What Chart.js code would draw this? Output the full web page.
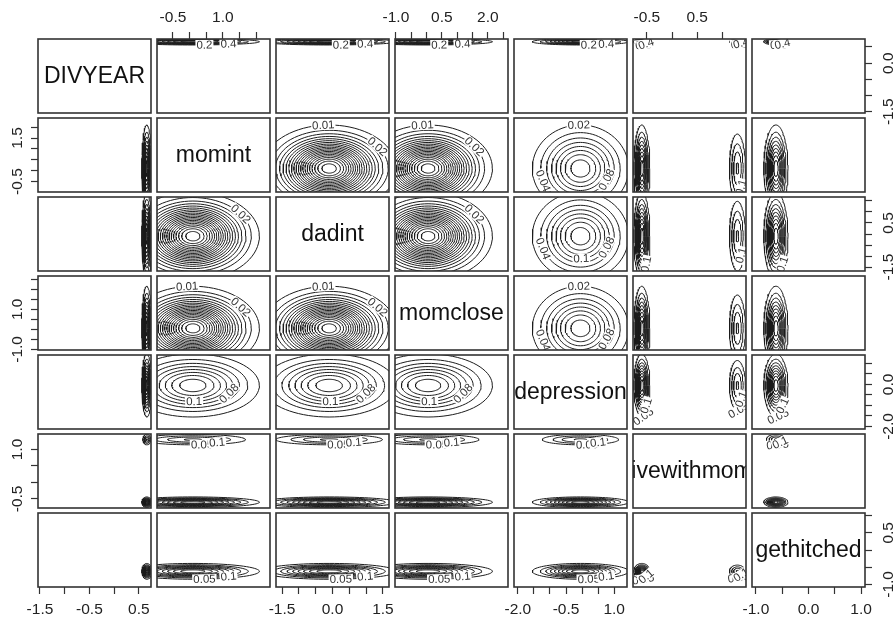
<!DOCTYPE html>
<html><head><meta charset="utf-8">
<style>
html,body{margin:0;padding:0;background:#fff;}
#wrap{position:relative;width:895px;height:618px;overflow:hidden;background:#fff;}
#wrap canvas{position:absolute;}
</style>
<script src="https://cdn.jsdelivr.net/npm/chart.js@4.4.1/dist/chart.umd.min.js"></script>
</head><body><div id="wrap"></div>
<script>
// ---------- data ----------
const variableNames = ['DIVYEAR','momint','dadint','momclose','depression','livewithmom','gethitched'];
const axisMin = [-1.54, -0.98, -1.68, -1.03, -2.12, -0.776, -1.075];
const axisMax = [0.745, 2.42, 1.68, 2.66, 1.40, 1.47, 1.075];
const tickValues = [
  [-1.5,-1.0,-0.5,0.0,0.5],
  [-0.5,0.0,0.5,1.0,1.5,2.0],
  [-1.5,-1.0,-0.5,0.0,0.5,1.0,1.5],
  [-1.0,-0.5,0.0,0.5,1.0,1.5,2.0,2.5],
  [-2.0,-1.5,-1.0,-0.5,0.0,0.5,1.0],
  [-0.5,0.0,0.5,1.0],
  [-1.0,-0.5,0.0,0.5,1.0]
];
const topTickLabels    = [null, [-0.5,1.0], null, [-1.0,0.5,2.0], null, [-0.5,0.5], null];
const bottomTickLabels = [[-1.5,-0.5,0.5], null, [-1.5,0.0,1.5], null, [-2.0,-0.5,1.0], null, [-1.0,0.0,1.0]];
const leftTickLabels   = [null, [-0.5,1.5], null, [-1.0,1.0], null, [-0.5,1.0], null];
const rightTickLabels  = [[-1.5,0.0], null, [-1.5,0.5], null, [-2.0,0.0], null, [-1.0,0.5]];

// density modes of each variable: centre, weight, outer contour half-width (data units)
const modeCenters = [[0.66],[0.1],[-0.1],[0.05],[-0.05],[-0.6,1.3],[-0.62]];
const modeWeights = [[1],[1],[1],[1],[1],[0.7,0.3],[1]];
const modeRadii   = [[0.1],[2.0],[2.0],[2.1],[1.5],[0.16,0.2],[0.23]];
// contour levels used when a variable dominates a panel
const levelStep  = [0.2, 0.01, 0.01, 0.01, 0.02, 0.05, 0.05];
const levelCount = [9, 20, 20, 20, 8, 9, 9];
const levelRank  = [4, 0, 0, 0, 1, 3, 2];
// which rings get a level label and at which angle (degrees)
const labelDense  = [[1,95],[2,35],[4,262]];
const labelSparse = [[1,92],[2,200],[5,272],[4,335]];
const labelThin   = [[1,-80],[2,-50]];

// ---------- layout ----------
const FONT = '"Liberation Sans", Arial, Helvetica, sans-serif';
Chart.defaults.font.family = FONT;
Chart.defaults.color = '#222';
const W0 = 895, H0 = 618;
const PX0 = 38, PY0 = 39, PITCH_X = 119, PITCH_Y = 79, PW = 113, PH = 74, MARG = 16;

function fmtLevel(c){ return String(parseFloat(c.toFixed(4))); }

function buildRings(i, j){
  const k = levelRank[i] >= levelRank[j] ? i : j;
  const step = levelStep[k], n = levelCount[k];
  const peak = step * (n + 0.7);
  let maxW = 0;
  modeWeights[j].forEach(wa => modeWeights[i].forEach(wb => { maxW = Math.max(maxW, wa*wb); }));
  const rings = [];
  modeCenters[j].forEach((cx, a) => {
    modeCenters[i].forEach((cy, b) => {
      const w = modeWeights[j][a]*modeWeights[i][b]/maxW;
      const pc = peak * w;
      for (let q = 1; q <= n; q++){
        const c = step*q;
        if (c >= pc) break;
        const f = Math.sqrt(Math.log(pc/c)/Math.log(peak/step));
        rings.push({cx, cy, rx: modeRadii[j][a]*f, ry: modeRadii[i][b]*f, level: c, q});
      }
    });
  });
  const spec = step === 0.01 ? labelDense : (step === 0.02 ? labelSparse : labelThin);
  const labels = [];
  rings.forEach(r => { spec.forEach(([q, ang]) => { if (r.q === q) labels.push({r, ang}); }); });
  return {rings, labels};
}

function ellipse(r){
  const pts = [], N = 80;
  for (let t = 0; t <= N; t++){
    const a = 2*Math.PI*t/N;
    pts.push({x: r.cx + r.rx*Math.cos(a), y: r.cy + r.ry*Math.sin(a)});
  }
  return pts;
}

const decoPlugin = {
  id: 'deco',
  afterDatasetsDraw(chart, args, info){
    const {ctx, chartArea: ca, scales} = chart;
    ctx.save();
    ctx.beginPath(); ctx.rect(ca.left, ca.top, ca.right-ca.left, ca.bottom-ca.top); ctx.clip();
    if (info.name){
      ctx.font = '23px ' + FONT; ctx.fillStyle = '#111';
      ctx.textAlign = 'center'; ctx.textBaseline = 'middle';
      ctx.fillText(info.name, (ca.left+ca.right)/2, (ca.top+ca.bottom)/2 + 1);
    }
    if (info.labels){
      const xs = scales.x, ys = scales.y;
      const P = (r, t) => ({x: xs.getPixelForValue(r.cx + r.rx*Math.cos(t)), y: ys.getPixelForValue(r.cy + r.ry*Math.sin(t))});
      ctx.font = '11.5px ' + FONT; ctx.textAlign = 'center'; ctx.textBaseline = 'middle';
      info.labels.forEach(({r, ang}) => {
        const t = ang*Math.PI/180;
        const p = P(r, t);
        if (p.x < ca.left+4 || p.x > ca.right-4 || p.y < ca.top+4 || p.y > ca.bottom-4) return;
        const p1 = P(r, t-0.02), p2 = P(r, t+0.02);
        let rot = Math.atan2(p2.y-p1.y, p2.x-p1.x);
        if (rot > Math.PI/2) rot -= Math.PI;
        if (rot < -Math.PI/2) rot += Math.PI;
        const txt = fmtLevel(r.level);
        const tw = ctx.measureText(txt).width;
        ctx.save(); ctx.translate(p.x, p.y); ctx.rotate(rot);
        ctx.fillStyle = '#fff'; ctx.fillRect(-tw/2-1, -5, tw+2, 10);
        ctx.fillStyle = '#333'; ctx.fillText(txt, 0, 0.5);
        ctx.restore();
      });
    }
    ctx.restore();
    ctx.save();
    ctx.lineWidth = 1.6; ctx.strokeStyle = '#333';
    ctx.strokeRect(ca.left, ca.top, ca.right-ca.left, ca.bottom-ca.top);
    ctx.restore();
  }
};

const wrap = document.getElementById('wrap');
const near = (arr, v) => arr && arr.some(l => Math.abs(l-v) < 1e-6);

for (let i = 0; i < 7; i++){
  for (let j = 0; j < 7; j++){
    const L = PX0 + PITCH_X*j, T = PY0 + PITCH_Y*i;
    const hasTop = i === 0 && !!topTickLabels[j];
    const hasBottom = i === 6 && !!bottomTickLabels[j];
    const hasLeft = j === 0 && !!leftTickLabels[i];
    const hasRight = j === 6 && !!rightTickLabels[i];
    const ml = hasLeft ? L : MARG;
    const mt = hasTop ? T : MARG;
    const mr = hasRight ? W0 - (L+PW) : MARG;
    const mb = hasBottom ? H0 - (T+PH) : MARG;
    const cv = document.createElement('canvas');
    cv.width = PW + ml + mr; cv.height = PH + mt + mb;
    cv.style.left = (L-ml) + 'px'; cv.style.top = (T-mt) + 'px';
    cv.style.width = cv.width + 'px'; cv.style.height = cv.height + 'px';
    wrap.appendChild(cv);

    let datasets = [], deco = {};
    if (i === j){
      deco.name = variableNames[i];
    } else {
      const {rings, labels} = buildRings(i, j);
      datasets = rings.map(r => ({
        data: ellipse(r), showLine: true, borderColor: '#1c1c1c', borderWidth: 1,
        pointRadius: 0, fill: false, tension: 0
      }));
      deco.labels = labels;
    }
    const xLabels = hasTop ? topTickLabels[j] : bottomTickLabels[j];
    const yLabels = hasLeft ? leftTickLabels[i] : rightTickLabels[i];
    const zeroPad = s => { s.paddingLeft = 0; s.paddingRight = 0; s.paddingTop = 0; s.paddingBottom = 0; };
    new Chart(cv, {
      type: 'scatter',
      data: {datasets},
      options: {
        responsive: false, animation: false, events: [],
        layout: {padding: {left: hasLeft?0:ml, right: hasRight?0:mr, top: hasTop?0:mt, bottom: hasBottom?0:mb}},
        plugins: {legend: {display: false}, tooltip: {enabled: false}, deco},
        scales: {
          x: {
            type: 'linear', min: axisMin[j], max: axisMax[j],
            display: hasTop || hasBottom, position: hasTop ? 'top' : 'bottom',
            grid: {display: true, drawOnChartArea: false, drawTicks: true, tickLength: 7, tickColor: '#333', tickWidth: 1.2},
            border: {display: false},
            afterBuildTicks: s => { s.ticks = tickValues[j].filter(v => v >= axisMin[j] && v <= axisMax[j]).map(v => ({value: v})); },
            afterFit: s => { if (hasTop || hasBottom){ s.height = hasTop ? mt : mb; zeroPad(s); } },
            ticks: {autoSkip: false, minRotation: 0, maxRotation: 0, padding: hasTop ? 5 : 6,
              font: {size: 15.5}, color: '#222',
              callback: v => near(xLabels, v) ? Number(v).toFixed(1) : ''}
          },
          y: {
            type: 'linear', min: axisMin[i], max: axisMax[i],
            display: hasLeft || hasRight, position: hasLeft ? 'left' : 'right',
            grid: {display: true, drawOnChartArea: false, drawTicks: true, tickLength: 7, tickColor: '#333', tickWidth: 1.2},
            border: {display: false},
            afterBuildTicks: s => { s.ticks = tickValues[i].filter(v => v >= axisMin[i] && v <= axisMax[i]).map(v => ({value: v})); },
            afterFit: s => { if (hasLeft || hasRight){ s.width = hasLeft ? ml : mr; zeroPad(s); } },
            ticks: {autoSkip: false, minRotation: 90, maxRotation: 90, crossAlign: 'center', padding: hasLeft ? 0 : 3,
              font: {size: 15.5}, color: '#222',
              callback: v => near(yLabels, v) ? Number(v).toFixed(1) : ''}
          }
        }
      },
      plugins: [decoPlugin]
    });
  }
}
</script></body></html>
